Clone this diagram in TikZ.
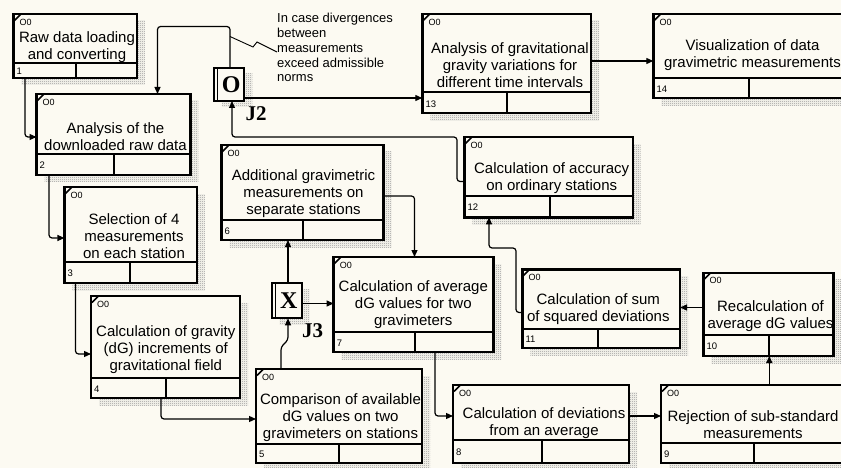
\documentclass[tikz,border=0pt]{standalone}
\usepackage{fontspec}
\setmainfont{Liberation Sans}
\newfontfamily\jfont{Liberation Serif}
\usetikzlibrary{arrows.meta,fit,patterns}

\definecolor{paper}{RGB}{252,250,242}

% fine checkerboard used for the drop shadows
\pgfdeclarepatternformonly{checker}{\pgfpointorigin}{\pgfqpoint{2pt}{2pt}}{\pgfqpoint{2pt}{2pt}}{%
  \pgfpathrectangle{\pgfpointorigin}{\pgfqpoint{1pt}{1pt}}%
  \pgfpathrectangle{\pgfqpoint{1pt}{1pt}}{\pgfqpoint{1pt}{1pt}}%
  \pgfusepath{fill}}

\tikzset{
  ubox/.style={draw=black, line width=2.4pt, fill=paper, inner sep=0pt, outer sep=0pt},
  divline/.style={line width=2pt},
  btext/.style={font=\fontsize{15}{17}\selectfont, align=center, inner sep=0pt},
  numtext/.style={font=\fontsize{9.5}{10}\selectfont, inner sep=0pt, anchor=west},
  tagtext/.style={font=\fontsize{9}{10}\selectfont, inner sep=0pt, anchor=west},
  shadowfill/.style={pattern=checker, pattern color=gray!85},
  link/.style={line width=1.2pt, rounded corners=3pt, -{Triangle[length=7pt,width=6pt]}},
  jbox/.style={draw=black, line width=2.2pt, fill=paper, inner sep=0pt, outer sep=0pt},
  jletter/.style={font=\jfont\bfseries\fontsize{24}{24}\selectfont, inner sep=0pt},
  jlabel/.style={font=\jfont\bfseries\fontsize{21}{21}\selectfont, inner sep=0pt},
  note/.style={font=\fontsize{13}{14.7}\selectfont, align=left, inner sep=0pt, anchor=west},
}

% unit-of-behaviour box: name, left, top, right, bottom, divider y, divider x, number
\newcommand\uob[8]{%
  \fill[shadowfill] ({#2+8},{#3+7}) rectangle ({#4+8},{#5+7});
  \path (#2,#3) coordinate (#1-nw) (#4,#5) coordinate (#1-se);
  \node[ubox, fit=(#1-nw)(#1-se)] (#1) {};
  \draw[divline] (#1.west |- 0,#6) -- (#1.east |- 0,#6);
  \draw[divline] (#7,#6) -- (#1.south -| #7,0);
  \node[numtext] (#1-num) at ({#2+3},{(#6+#5)/2+1}) {#8};
  \node[tagtext] (#1-tag) at ({#2+6},{#3+8}) {O0};
  \draw[line width=1.6pt] ({#2+1},{#3+6.5}) -- ({#2+7.5},{#3});
}

% junction box: name, left, top, right, bottom, letter
\newcommand\junc[6]{%
  \fill[shadowfill] ({#2+8},{#3+6}) rectangle ({#4+8},{#5+6});
  \path (#2,#3) coordinate (#1-nw) (#4,#5) coordinate (#1-se);
  \node[jbox, fit=(#1-nw)(#1-se)] (#1) {};
  \draw[line width=1.6pt] ({#2+3.6},#3) -- ({#2+3.6},#5);
  \node[jletter] (#1-l) at ({(#2+#4)/2+2},{(#3+#5)/2}) {#6};
}

\begin{document}
\begin{tikzpicture}[x=1pt, y=-1pt]
  \path[use as bounding box, fill=paper] (0,0) rectangle (841,468);
  \clip (0,0) rectangle (841,468);

  % boxes
  \uob{b1}{13.4}{14}{136.8}{78}{62.7}{76}{1}
  \uob{b2}{36.5}{94}{190.4}{175}{154}{114}{2}
  \uob{b3}{64.4}{187}{196.8}{283}{262}{130}{3}
  \uob{b4}{91}{296}{240}{398}{378}{166}{4}
  \uob{b5}{256}{369}{422}{463}{444}{339}{5}
  \uob{b6}{221.5}{145}{383.5}{240}{220}{303}{6}
  \uob{b7}{333.6}{257}{493.4}{352}{332}{414.6}{7}
  \uob{b8}{453}{385}{629}{463}{440}{541.7}{8}
  \uob{b9}{661}{385}{847}{463}{443.3}{754}{9}
  \uob{b10}{703.3}{272.7}{833.3}{356}{335}{769.3}{10}
  \uob{b11}{522.3}{269.3}{680}{348}{329}{597.7}{11}
  \uob{b12}{464.3}{137.3}{632.7}{217.3}{196}{550}{12}
  \uob{b13}{422.3}{14}{591}{113.3}{92.3}{506.7}{13}
  \uob{b14}{653.3}{14}{845.3}{98.3}{77.7}{749.3}{14}

  % box titles
  \node[btext] (t1) at (77,46.7) {Raw data loading\\and converting};
  \node[btext] (t2) at (115.5,136.3) {Analysis of the\\downloaded raw data};
  \node[btext] (t3) at (134,236) {Selection of 4\\measurements\\on each station};
  \node[btext] (t4) at (165.8,349.4) {Calculation of gravity\\(dG) increments of\\gravitational field};
  \node[btext] (t5) at (340.5,418) {Comparison of available\\dG values on two\\gravimeters on stations};
  \node[btext] (t6) at (303.5,193.7) {Additional gravimetric\\measurements on\\separate stations};
  \node[btext] (t7) at (413.3,305) {Calculation of average\\dG values for two\\gravimeters};
  \node[btext] (t8) at (544,423.3) {Calculation of deviations\\from an average};
  \node[btext] (t9) at (753,425) {Rejection of sub-standard\\measurements};
  \node[btext] (t10) at (770.5,316) {Recalculation of\\average dG values};
  \node[btext] (t11) at (598.3,309) {Calculation of sum\\of squared deviations};
  \node[btext] (t12) at (551.7,178.3) {Calculation of accuracy\\on ordinary stations};
  \node[btext] (t13) at (510,65) {Analysis of gravitational\\gravity variations for\\different time intervals};
  \node[btext] (t14) at (752.5,55.5) {Visualization of data\\gravimetric measurements};

  % junctions
  \junc{j2}{214}{67.7}{244.3}{101}{O}
  \junc{j3}{271.7}{283.3}{301.7}{318.3}{X}
  \node[jlabel] (j2lab) at (256,114) {J2};
  \node[jlabel] (j3lab) at (312.5,331) {J3};

  % precedence links
  \draw[link] (b1.south -| 25,0) -- (25,137) -- (b2.west |- 0,137);
  \draw[link] (b2.south -| 49,0) -- (49,238) -- (b3.west |- 0,238);
  \draw[link] (b3.south -| 75.5,0) -- (75.5,354) -- (b4.west |- 0,354);
  \draw[link] (b4.south -| 161,0) -- (161,419) -- (b5.west |- 0,419);
  \draw[link] (b5.north -| 281,0) -- (281,347) -- (288,340) -- (j3.south -| 288,0);
  \draw[link] (j3.north -| 288,0) -- (b6.south -| 288,0);
  \draw[link] (j3.east |- 0,303.5) -- (b7.west |- 0,303.5);
  \draw[link] (b6.east |- 0,196) -- (414.5,196) -- (b7.north -| 414.5,0);
  \draw[link] (b7.south -| 435,0) -- (435,416) -- (b8.west |- 0,416);
  \draw[link] (b8.east |- 0,416) -- (b9.west |- 0,416);
  \draw[link] (b9.north -| 769.3,0) -- (b10.south -| 769.3,0);
  \draw[link] (b10.west |- 0,307.5) -- (b11.east |- 0,307.5);
  \draw[link] (b11.west |- 0,312.5) -- (516,312.5) -- (516,248) -- (489,248) -- (b12.south -| 489,0);
  \draw[link] (b12.west |- 0,181.5) -- (457,181.5) -- (457,137) -- (232,137) -- (j2.south -| 232,0);
  \draw[link] (j2.east |- 0,98) -- (b13.west |- 0,98);
  \draw[link] (j2.north -| 230,0) -- (230,26.5) -- (157.5,26.5) -- (b2.north -| 157.5,0);
  \draw[link] (b13.east |- 0,61) -- (b14.west |- 0,61);

  % note on the feedback link
  \node[note] (note) at (277,47.7) {In case divergences\\between\\measurements\\exceed admissible\\norms};
  \coordinate (notefoot) at (230,36.5);
  \draw[line width=0.9pt] (notefoot) -- (253,47) -- (257,42) -- (note.west |- 0,52);
\end{tikzpicture}
\end{document}
